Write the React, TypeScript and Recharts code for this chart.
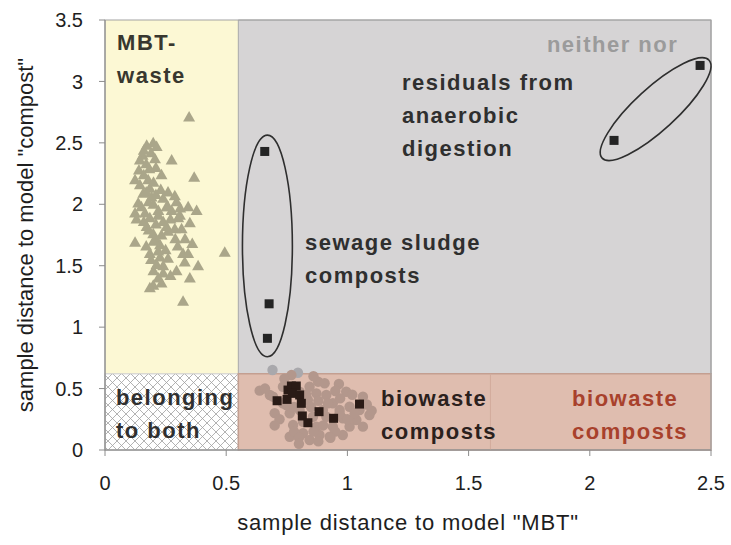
import React from 'react';
import { ScatterChart, Scatter, XAxis, YAxis, ReferenceArea, ReferenceDot, ReferenceLine } from 'recharts';

// MBT-waste samples (triangles)
const mbtWaste = [
  { x: 0.347, y: 2.71 }, { x: 0.199, y: 2.50 }, { x: 0.172, y: 2.48 }, { x: 0.213, y: 2.47 },
  { x: 0.155, y: 2.40 }, { x: 0.206, y: 2.37 }, { x: 0.275, y: 2.36 }, { x: 0.144, y: 2.36 },
  { x: 0.183, y: 2.29 }, { x: 0.233, y: 2.24 }, { x: 0.368, y: 2.22 }, { x: 0.124, y: 2.20 },
  { x: 0.178, y: 2.20 }, { x: 0.144, y: 2.16 }, { x: 0.185, y: 2.13 }, { x: 0.158, y: 2.09 },
  { x: 0.240, y: 2.05 }, { x: 0.288, y: 2.07 }, { x: 0.192, y: 2.06 }, { x: 0.137, y: 2.01 },
  { x: 0.295, y: 2.02 }, { x: 0.254, y: 1.98 }, { x: 0.343, y: 1.98 }, { x: 0.378, y: 1.95 },
  { x: 0.124, y: 1.93 }, { x: 0.165, y: 1.93 }, { x: 0.220, y: 1.91 }, { x: 0.275, y: 1.95 },
  { x: 0.309, y: 1.91 }, { x: 0.185, y: 1.89 }, { x: 0.302, y: 1.89 }, { x: 0.172, y: 1.82 },
  { x: 0.254, y: 1.82 }, { x: 0.288, y: 1.80 }, { x: 0.316, y: 1.80 }, { x: 0.199, y: 1.76 },
  { x: 0.233, y: 1.75 }, { x: 0.124, y: 1.69 }, { x: 0.213, y: 1.71 }, { x: 0.227, y: 1.67 },
  { x: 0.494, y: 1.61 }, { x: 0.185, y: 1.60 }, { x: 0.322, y: 1.60 }, { x: 0.343, y: 1.60 },
  { x: 0.227, y: 1.57 }, { x: 0.329, y: 1.53 }, { x: 0.384, y: 1.50 }, { x: 0.213, y: 1.51 },
  { x: 0.295, y: 1.46 }, { x: 0.240, y: 1.44 }, { x: 0.350, y: 1.40 }, { x: 0.199, y: 1.34 },
  { x: 0.233, y: 1.36 }, { x: 0.185, y: 1.32 }, { x: 0.322, y: 1.21 },
  { x: 0.160, y: 2.44 }, { x: 0.190, y: 2.42 }, { x: 0.210, y: 2.30 }, { x: 0.170, y: 2.10 },
  { x: 0.200, y: 2.00 }, { x: 0.220, y: 1.95 }, { x: 0.240, y: 1.86 }, { x: 0.260, y: 1.78 },
  { x: 0.200, y: 1.70 }, { x: 0.190, y: 1.55 }, { x: 0.250, y: 1.63 }, { x: 0.150, y: 1.98 },
  { x: 0.230, y: 2.12 },
  { x: 0.140, y: 2.28 }, { x: 0.170, y: 2.33 }, { x: 0.200, y: 2.18 }, { x: 0.160, y: 2.24 },
  { x: 0.260, y: 2.10 }, { x: 0.210, y: 2.08 }, { x: 0.180, y: 2.02 }, { x: 0.130, y: 1.88 },
  { x: 0.160, y: 1.86 }, { x: 0.210, y: 1.84 }, { x: 0.270, y: 1.88 }, { x: 0.290, y: 1.72 },
  { x: 0.180, y: 1.79 }, { x: 0.220, y: 1.62 }, { x: 0.260, y: 1.56 }, { x: 0.170, y: 1.66 },
  { x: 0.240, y: 1.50 }, { x: 0.200, y: 1.46 }, { x: 0.270, y: 1.42 }, { x: 0.220, y: 1.40 },
  { x: 0.300, y: 1.66 }, { x: 0.330, y: 1.72 }, { x: 0.350, y: 1.85 }, { x: 0.360, y: 1.68 },
  { x: 0.260, y: 1.98 }, { x: 0.310, y: 1.97 },
];

// biowaste compost samples (circles)
const biowaste = [
  { x: 0.691, y: 0.651 }, { x: 0.796, y: 0.629 }, { x: 0.769, y: 0.610 }, { x: 0.638, y: 0.483 },
  { x: 0.680, y: 0.448 }, { x: 0.879, y: 0.556 }, { x: 0.906, y: 0.543 }, { x: 0.965, y: 0.537 },
  { x: 0.995, y: 0.474 }, { x: 0.872, y: 0.461 }, { x: 0.913, y: 0.448 }, { x: 1.064, y: 0.434 },
  { x: 0.837, y: 0.407 }, { x: 0.940, y: 0.380 }, { x: 1.009, y: 0.352 }, { x: 1.091, y: 0.285 },
  { x: 0.762, y: 0.299 }, { x: 0.858, y: 0.271 }, { x: 0.913, y: 0.271 }, { x: 0.981, y: 0.258 },
  { x: 1.037, y: 0.244 }, { x: 0.776, y: 0.203 }, { x: 0.872, y: 0.190 }, { x: 0.940, y: 0.190 },
  { x: 1.009, y: 0.190 }, { x: 0.817, y: 0.136 }, { x: 0.885, y: 0.122 }, { x: 0.981, y: 0.122 },
  { x: 0.927, y: 0.108 }, { x: 0.803, y: 0.474 }, { x: 0.844, y: 0.515 }, { x: 0.734, y: 0.515 },
  { x: 0.748, y: 0.366 }, { x: 0.803, y: 0.325 }, { x: 0.899, y: 0.325 }, { x: 0.968, y: 0.325 },
  { x: 1.064, y: 0.190 }, { x: 0.762, y: 0.108 }, { x: 0.844, y: 0.081 }, { x: 0.968, y: 0.299 },
  { x: 1.050, y: 0.325 }, { x: 0.817, y: 0.230 }, { x: 0.734, y: 0.380 }, { x: 0.693, y: 0.434 },
  { x: 0.700, y: 0.300 }, { x: 0.720, y: 0.250 }, { x: 0.780, y: 0.150 }, { x: 0.800, y: 0.100 },
  { x: 0.860, y: 0.150 }, { x: 0.900, y: 0.200 }, { x: 0.950, y: 0.150 }, { x: 1.000, y: 0.250 },
  { x: 1.030, y: 0.300 }, { x: 0.850, y: 0.350 }, { x: 0.920, y: 0.380 }, { x: 0.970, y: 0.420 },
  { x: 0.880, y: 0.400 }, { x: 0.780, y: 0.350 }, { x: 0.830, y: 0.450 }, { x: 0.950, y: 0.480 },
  { x: 1.080, y: 0.370 }, { x: 0.660, y: 0.500 }, { x: 0.740, y: 0.580 }, { x: 0.860, y: 0.600 },
  { x: 0.930, y: 0.100 }, { x: 0.880, y: 0.070 }, { x: 0.800, y: 0.050 }, { x: 1.020, y: 0.450 },
  { x: 1.100, y: 0.320 }, { x: 0.700, y: 0.200 },
];

// compost samples (squares)
const biowasteSamples = [
  { x: 0.710, y: 0.401 }, { x: 0.751, y: 0.412 }, { x: 0.755, y: 0.488 }, { x: 0.769, y: 0.521 },
  { x: 0.789, y: 0.521 }, { x: 0.773, y: 0.461 }, { x: 0.803, y: 0.448 }, { x: 0.810, y: 0.380 },
  { x: 0.814, y: 0.277 }, { x: 0.837, y: 0.222 }, { x: 0.883, y: 0.312 }, { x: 0.943, y: 0.258 },
  { x: 1.050, y: 0.374 },
];
const sewageSludge = [
  { x: 0.659, y: 2.43 }, { x: 0.677, y: 1.19 }, { x: 0.670, y: 0.909 },
];
const residuals = [
  { x: 2.10, y: 2.52 }, { x: 2.455, y: 3.13 },
];

const xTicks = [0, 0.5, 1, 1.5, 2, 2.5];
const yTicks = [0, 0.5, 1, 1.5, 2, 2.5, 3, 3.5];
const xBoundary = 0.55;
const yBoundary = 0.62;

const annotations = [
  { lines: ['MBT-', 'waste'], x: 0.05, y: 3.256, color: '#38372e' },
  { lines: ['neither nor'], x: 1.823, y: 3.239, color: '#9b9b9b' },
  { lines: ['residuals from', 'anaerobic', 'digestion'], x: 1.225, y: 2.93, color: '#2f2f2f' },
  { lines: ['sewage sludge', 'composts'], x: 0.825, y: 1.628, color: '#2f2f2f' },
  { lines: ['belonging', 'to both'], x: 0.045, y: 0.366, color: '#2f2f2f' },
  { lines: ['biowaste', 'composts'], x: 1.139, y: 0.358, color: '#2b211d' },
  { lines: ['biowaste', 'composts'], x: 1.927, y: 0.358, color: '#a8412c' },
];

const FONT = '"Liberation Sans", Arial, Helvetica, sans-serif';

const Triangle = (p: any) => (
  <polygon
    points={`${p.cx},${p.cy - 6} ${p.cx + 6},${p.cy + 4.5} ${p.cx - 6},${p.cy + 4.5}`}
    fill="#aaa68a"
  />
);
const Circle = (p: any) => (
  <circle cx={p.cx} cy={p.cy} r={5.2} fill={p.payload && p.payload.y > yBoundary ? '#a9a8ac' : '#b3978c'} />
);
const Square = (p: any) => (
  <rect x={p.cx - 4.5} y={p.cy - 4.5} width={9} height={9}
    fill={p.payload && p.payload.y < yBoundary ? '#2a1b16' : '#242424'} />
);

const HatchRect = (p: any) => (
  <g>
    <defs>
      <pattern id="xhatch" width="9" height="9" patternUnits="userSpaceOnUse">
        <rect width="9" height="9" fill="#ffffff" />
        <path d="M0,0 L9,9 M9,0 L0,9" stroke="#a0a0a0" strokeWidth="0.8" />
      </pattern>
    </defs>
    <rect x={p.x} y={p.y} width={p.width} height={p.height} fill="url(#xhatch)" stroke="#c8c8c8" strokeWidth={1} />
  </g>
);

const VerticalEllipse = (p: any) => (
  <ellipse cx={p.x + p.width / 2} cy={p.y + p.height / 2} rx={p.width / 2} ry={p.height / 2}
    fill="none" stroke="#2e2e2e" strokeWidth={1.6} />
);

const DiagonalEllipse = (p: any) => {
  const cx = p.x + p.width / 2;
  const cy = p.y + p.height / 2;
  const len = Math.sqrt(p.width * p.width + p.height * p.height);
  const ang = (-Math.atan2(p.height, p.width) * 180) / Math.PI;
  return (
    <ellipse cx={cx} cy={cy} rx={len / 2} ry={21} transform={`rotate(${ang} ${cx} ${cy})`}
      fill="none" stroke="#2e2e2e" strokeWidth={1.6} />
  );
};

const makeText = (lines: string[], color: string) => (p: any) => (
  <text x={p.cx} y={p.cy} fill={color} fontSize={22} fontWeight="bold" fontFamily={FONT} letterSpacing={1.5}>
    {lines.map((l, i) => (
      <tspan key={i} x={p.cx} dy={i === 0 ? 0 : 33}>{l}</tspan>
    ))}
  </text>
);

export default function App() {
  return (
    <div style={{ position: 'absolute', left: 0, top: 0, width: 731, height: 545, background: '#fff' }}>
      <ScatterChart width={731} height={545} margin={{ top: 20, right: 20, bottom: 0, left: 0 }}>
        <XAxis
          type="number" dataKey="x" domain={[0, 2.5]} ticks={xTicks} height={95}
          axisLine={{ stroke: '#8c8c8c' }} tickLine={{ stroke: '#8c8c8c' }} tickSize={6} tickMargin={20}
          tick={{ fill: '#1e1e1e', fontSize: 20, fontFamily: FONT }}
          allowDataOverflow
          label={{
            content: (props: any) => {
              const vb = props.viewBox;
              return (
                <text x={vb.x + vb.width / 2} y={vb.y + 80} textAnchor="middle" fill="#1e1e1e" fontSize={22}
                  fontFamily={FONT} letterSpacing={0.8}>
                  sample distance to model "MBT"
                </text>
              );
            },
          }}
        />
        <YAxis
          type="number" dataKey="y" domain={[0, 3.5]} ticks={yTicks} width={105}
          axisLine={{ stroke: '#8c8c8c' }} tickLine={{ stroke: '#8c8c8c' }} tickSize={6} tickMargin={16}
          tick={{ fill: '#1e1e1e', fontSize: 20, fontFamily: FONT }}
          allowDataOverflow
          label={{
            content: (props: any) => {
              const vb = props.viewBox;
              const cx = vb.x + 33;
              const cy = vb.y + vb.height / 2;
              return (
                <text x={cx} y={cy} textAnchor="middle" fill="#1e1e1e" fontSize={22} fontFamily={FONT}
                  transform={`rotate(-90 ${cx} ${cy})`}>
                  sample distance to model "compost"
                </text>
              );
            },
          }}
        />
        <ReferenceArea x1={0} x2={xBoundary} y1={yBoundary} y2={3.5} fill="#fcf8d4" fillOpacity={1} stroke="none" />
        <ReferenceArea x1={xBoundary} x2={2.5} y1={yBoundary} y2={3.5} fill="#d6d4d5" fillOpacity={1} stroke="#a8a8a8" strokeWidth={1} />
        <ReferenceArea x1={0} x2={xBoundary} y1={0} y2={yBoundary} shape={HatchRect} />
        <ReferenceArea x1={xBoundary} x2={2.5} y1={0} y2={yBoundary} fill="#dfbdaf" fillOpacity={1} stroke="#c49f91" strokeWidth={1.5} />
        <ReferenceLine segment={[{ x: 1.59, y: 0 }, { x: 1.59, y: yBoundary }]} stroke="#d2ab9c" strokeWidth={1} />
        <ReferenceArea x1={0} x2={2.5} y1={0} y2={3.5} fill="none" stroke="#a4a4a4" strokeWidth={1.2} />
        <ReferenceArea x1={0.567} x2={0.773} y1={0.759} y2={2.563} shape={VerticalEllipse} />
        <ReferenceArea x1={2.051} x2={2.492} y1={2.376} y2={3.173} shape={DiagonalEllipse} />

        <Scatter data={mbtWaste} shape={Triangle} isAnimationActive={false} />
        <Scatter data={biowaste} shape={Circle} isAnimationActive={false} />
        <Scatter data={biowasteSamples} shape={Square} isAnimationActive={false} />
        <Scatter data={sewageSludge} shape={Square} isAnimationActive={false} />
        <Scatter data={residuals} shape={Square} isAnimationActive={false} />

        {annotations.map((a, i) => (
          <ReferenceDot key={i} x={a.x} y={a.y} r={0} shape={makeText(a.lines, a.color)} />
        ))}
      </ScatterChart>
    </div>
  );
}
